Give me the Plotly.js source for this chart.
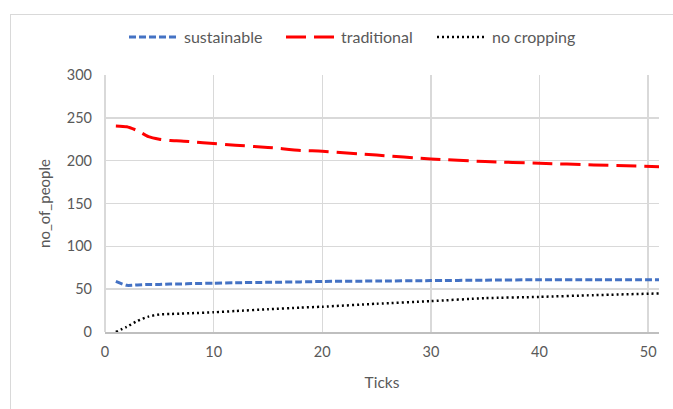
<!DOCTYPE html>
<html>
<head>
<meta charset="utf-8">
<script src="https://cdn.plot.ly/plotly-3.0.1.min.js"></script>
<style>
  html, body { margin: 0; padding: 0; background: #fff; }
  #wrap { position: relative; width: 673px; height: 409px; overflow: hidden; }
  #chart { width: 673px; height: 409px; }
  #frame { position: absolute; left: 10px; top: 14px; width: 700px; height: 420px;
           border: 1px solid #d9d9d9; pointer-events: none; box-sizing: border-box; }
</style>
</head>
<body>
<div id="wrap">
  <div id="chart"></div>
  <div id="frame"></div>
</div>
<script>
const ticks       = [1, 2, 3, 4, 5, 6, 7, 8, 10, 12, 15, 18, 20, 25, 30, 35, 40, 45, 51];
const sustainable = [59, 54.5, 55, 55.5, 55.5, 56, 56, 56.5, 57, 57.5, 58, 58.5, 59, 59.5, 60, 60.5, 61, 61, 61];
const traditional = [240.5, 239.5, 235, 228, 225, 223.5, 223, 222, 220, 218, 215.5, 212, 211, 206.5, 202, 199, 197, 195, 193];
const noCropping  = [0, 6, 13, 18, 20.5, 21, 21.5, 22, 23, 24.5, 26.5, 28.5, 29.5, 33, 36, 39.5, 41, 43, 45];

const fontFam = 'Lato, "Open Sans", "Liberation Sans", sans-serif';
const grey = '#595959';
const gridC = '#d9d9d9';

const traces = [
  { x: ticks, y: sustainable, name: 'sustainable', mode: 'lines', legend: 'legend',
    line: { color: '#4472c4', width: 3, dash: '7px,3px', shape: 'spline', smoothing: 0.6 } },
  { x: ticks, y: traditional, name: 'traditional', mode: 'lines', legend: 'legend2',
    line: { color: '#ff0000', width: 3, dash: '20px,8px', shape: 'spline', smoothing: 0.6 } },
  { x: ticks, y: noCropping, name: 'no cropping', mode: 'lines', legend: 'legend3',
    line: { color: '#000000', width: 2.5, dash: '2px,3px', shape: 'spline', smoothing: 0.6 } }
];

function leg(px) {
  return { orientation: 'h', x: (px - 105) / 554, xanchor: 'left', y: (332 - 37) / 257, yanchor: 'middle',
           font: { family: fontFam, size: 16, color: grey }, itemwidth: 50, bgcolor: 'rgba(0,0,0,0)' };
}

const layout = {
  width: 673, height: 409,
  margin: { l: 105, r: 14, t: 75, b: 77 },
  paper_bgcolor: '#fff', plot_bgcolor: '#fff',
  font: { family: fontFam, color: grey, size: 14 },
  showlegend: true,
  legend: leg(124),
  legend2: leg(281),
  legend3: leg(432),
  xaxis: {
    range: [0, 51], tickvals: [0, 10, 20, 30, 40, 50],
    showgrid: true, gridcolor: gridC, gridwidth: 1.5,
    zeroline: true, zerolinecolor: gridC, zerolinewidth: 1.5,
    showline: true, linecolor: '#bfbfbf', linewidth: 1.5,
    ticks: '', ticklabelstandoff: 6,
    tickfont: { family: fontFam, size: 14.5, color: grey },
    title: { text: 'Ticks', font: { family: fontFam, size: 15.5, color: grey }, standoff: 18 }
  },
  yaxis: {
    range: [0, 300], tickvals: [0, 50, 100, 150, 200, 250, 300],
    showgrid: true, gridcolor: gridC, gridwidth: 1.5,
    zeroline: false, showline: false,
    ticks: '', ticklabelstandoff: 12,
    tickfont: { family: fontFam, size: 14.5, color: grey },
    title: { text: 'no_of_people', font: { family: fontFam, size: 15, color: grey }, standoff: 12 }
  }
};

Plotly.newPlot('chart', traces, layout, { displayModeBar: false, staticPlot: true });
</script>
</body>
</html>
